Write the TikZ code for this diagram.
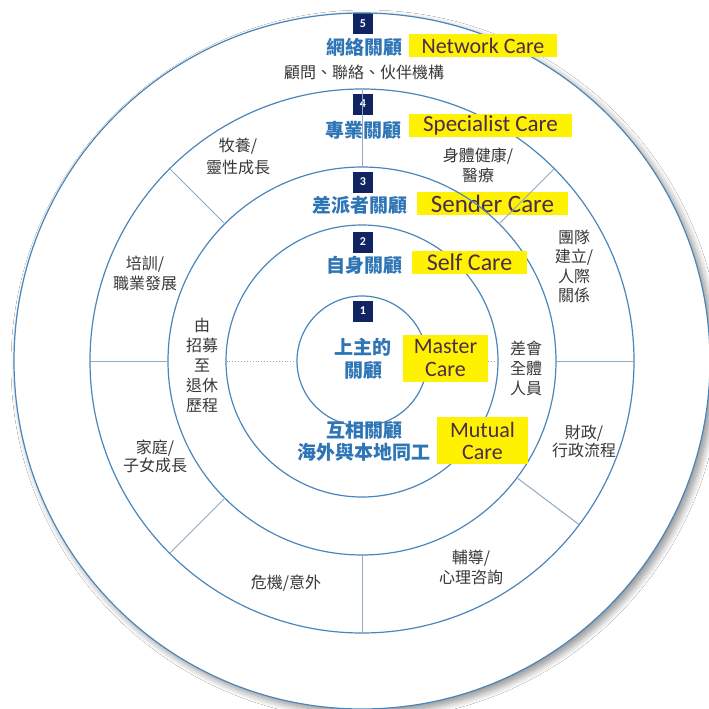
\documentclass[tikz,border=0pt]{standalone}
\usepackage{fontspec}
\newfontfamily\cjkf{Noto Sans CJK TC}
\newfontfamily\carlito{Carlito}
\usetikzlibrary{calc,shadows.blur}
\definecolor{ringc}{HTML}{4A86BA}
\definecolor{divc}{HTML}{93A9BF}
\definecolor{bluet}{HTML}{2E75B6}
\definecolor{navy}{HTML}{0F2460}
\definecolor{plum}{HTML}{4B2C4A}
\definecolor{yel}{HTML}{FFF200}
\definecolor{greyt}{HTML}{383838}
\begin{document}
\begin{tikzpicture}[x=1pt,y=-1pt,
  ring/.style={draw=ringc, line width=1.2pt},
  divider/.style={draw=divc, line width=1pt},
  dotline/.style={draw=divc, line width=0.9pt, dotted},
  numbox/.style={fill=navy, text=white, minimum width=20pt, minimum height=21pt, inner sep=0pt, font=\carlito\bfseries\fontsize{12}{12}\selectfont},
  title/.style={text=bluet, inner sep=0pt, align=center, font=\cjkf\bfseries\fontsize{19}{23}\selectfont},
  carebox/.style={fill=yel, text=plum, inner sep=0pt, align=center},
  lab/.style={text=greyt, inner sep=0pt, align=center, font=\cjkf\fontsize{16}{20}\selectfont},
]
\useasboundingbox (0,0) rectangle (709,709);
\fill[white] (0,0) rectangle (709,709);
\coordinate (C) at (362,361);
% outer disc with shadow
\fill[white, blur shadow={shadow xshift=4pt, shadow yshift=-4pt, shadow opacity=45, shadow blur radius=7pt, shadow blur steps=10}] (C) circle[radius=348];
% Sender Care box sits under the lines
\node[carebox, minimum width=151pt, minimum height=23pt, font=\carlito\fontsize{25}{25}\selectfont] (sendbox) at (492.5,203.5) {Sender Care};
% number boxes
\node[numbox] (nb5) at (363,24) {5};
\node[numbox] (nb4) at (363,104) {4};
\node[numbox] (nb3) at (363,182) {3};
\node[numbox] (nb2) at (363,242) {2};
\node[numbox] (nb1) at (363,311) {1};
% rings
\draw[ring] (C) circle[radius=348];
\draw[ring] (C) circle[radius=272];
\draw[ring] (C) circle[radius=194];
\draw[ring] (C) circle[radius=136];
\draw[ring] (C) circle[radius=65];
% dividers in ring between r=194 and r=272 (angles flipped since y points down)
\foreach \a in {0,-45,-90,-135,180,135,90,37}{
  \draw[divider] ($(C)+(\a:194)$) -- ($(C)+(\a:272)$);
}
\draw[dotline] ($(C)+(0:65)$) -- ($(C)+(0:136)$);
\draw[dotline] ($(C)+(180:65)$) -- ($(C)+(180:136)$);
% titles
\node[title] (t5) at (364,47) {網絡關顧};
\node[title] (t4) at (363,130) {專業關顧};
\node[title] (t3) at (360,205) {差派者關顧};
\node[title] (t2) at (364,265) {自身關顧};
\node[title] (t1) at (363,358.5) {上主的\\關顧};
\node[title, font=\cjkf\bfseries\fontsize{19}{22}\selectfont] (tm) at (364,441) {互相關顧\\海外與本地同工};
% care boxes
\node[carebox, minimum width=148pt, minimum height=23pt, font=\carlito\fontsize{22}{22}\selectfont] (netbox) at (483,45.5) {Network Care};
\node[carebox, minimum width=163pt, minimum height=23pt, font=\carlito\fontsize{23}{23}\selectfont] (specbox) at (490.5,125.5) {Specialist Care};
\node[carebox, minimum width=115pt, minimum height=23pt, font=\carlito\fontsize{24}{24}\selectfont] (selfbox) at (469.5,262.5) {Self Care};
\node[carebox, minimum width=85pt, minimum height=47pt, font=\carlito\fontsize{22}{23}\selectfont] (masterbox) at (445.5,358.5) {Master\\Care};
\node[carebox, minimum width=91pt, minimum height=47pt, font=\carlito\fontsize{22}{22}\selectfont] (mutualbox) at (482.5,440.5) {Mutual\\Care};
% grey labels
\node[lab] (l5) at (364,72) {顧問、聯絡、伙伴機構};
\node[lab] (lbody) at (478,165) {身體健康/\\醫療};
\node[lab, font=\cjkf\fontsize{16}{19.5}\selectfont] (lteam) at (574,266.5) {團隊\\建立/\\人際\\關係};
\node[lab] (lall) at (526,368) {差會\\全體\\人員};
\node[lab, font=\cjkf\fontsize{16}{18}\selectfont] (lfin) at (584,441) {財政/\\行政流程};
\node[lab] (lcoun) at (471,567) {輔導/\\心理咨詢};
\node[lab] (lcris) at (286,583) {危機/意外};
\node[lab, font=\cjkf\fontsize{16}{18}\selectfont] (lfam) at (155,456) {家庭/\\子女成長};
\node[lab] (lcar) at (202,365) {由\\招募\\至\\退休\\歷程};
\node[lab] (ltrain) at (145,273) {培訓/\\職業發展};
\node[lab, font=\cjkf\fontsize{16}{22}\selectfont] (lpast) at (238,156) {牧養/\\靈性成長};
\end{tikzpicture}
\end{document}
